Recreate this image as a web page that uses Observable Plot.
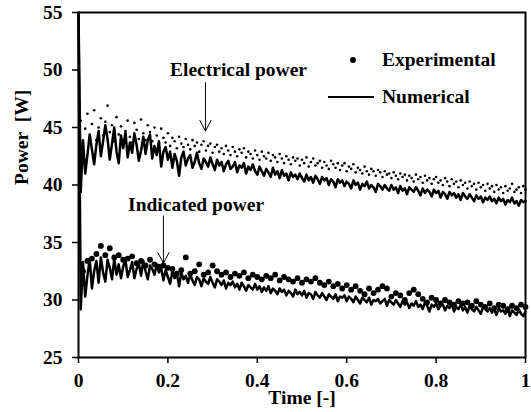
<!DOCTYPE html>
<html><head><meta charset="utf-8">
<script src="https://cdn.jsdelivr.net/npm/d3@7"></script>
<script src="https://cdn.jsdelivr.net/npm/@observablehq/plot@0.6"></script>
<style>html,body{margin:0;padding:0;background:#fff} svg{display:block}</style>
</head><body><div id="chart"></div>
<script>
// Tick values
const xTicks = [0, 0.2, 0.4, 0.6, 0.8, 1];
const yTicks = [25, 30, 35, 40, 45, 50, 55];

// Sampling of the dense series (time step, dimensionless)
const denseStep = 0.005;
// Electrical power – numerical (solid line)
const elecNum = [
55.0,39.4,43.9,41.0,42.6,44.4,43.1,41.8,43.5,44.7,
42.5,43.8,45.2,44.0,42.2,43.6,45.0,42.9,41.9,44.3,
43.2,44.6,42.4,43.7,42.8,44.5,43.5,42.1,43.0,44.2,
42.7,43.9,44.4,42.3,43.4,42.6,43.8,41.6,42.9,43.3,
42.2,42.9,41.5,42.7,42.1,40.8,42.4,42.9,41.7,42.3,
42.6,41.5,42.0,42.8,41.9,41.4,42.3,42.0,41.6,42.4,
41.8,41.3,42.2,41.7,42.0,41.2,41.8,42.1,41.4,41.6,
42.0,41.1,41.7,41.5,41.9,41.0,41.6,41.3,41.8,41.2,
40.9,41.6,41.2,40.8,41.4,41.1,40.7,41.5,40.9,41.2,
40.6,41.3,40.8,41.0,40.4,41.1,40.7,40.9,40.5,41.0,
40.6,40.3,40.9,40.4,40.7,40.2,40.8,40.5,40.1,40.7,
40.4,40.6,40.0,40.5,40.3,39.8,40.5,40.2,40.4,39.9,
40.3,40.1,39.7,40.4,40.0,40.2,39.6,40.1,39.9,40.3,
39.7,40.0,39.8,39.4,40.1,39.9,39.6,40.0,39.7,39.5,
40.0,39.6,39.8,39.3,39.9,39.5,39.7,39.2,39.8,39.6,
39.4,39.8,39.5,39.1,39.7,39.3,39.6,39.4,39.0,39.6,
39.3,39.5,38.9,39.4,39.2,38.8,39.4,39.1,39.3,38.9,
39.2,38.7,39.3,39.0,38.8,39.2,38.9,38.6,39.1,38.8,
39.0,38.5,38.9,38.7,39.0,38.6,38.8,38.4,38.9,38.6,
38.8,38.3,38.7,38.5,38.9,38.4,38.6,38.2,38.7,38.5,
38.6];
// Electrical power – experimental (small dots)
const elecExp = [
54.6,45.6,43.5,44.9,46.2,44.0,45.3,46.5,43.9,45.0,
45.8,44.3,45.5,46.9,44.6,45.2,43.8,45.9,44.4,45.1,
43.9,44.7,45.6,44.2,43.7,45.4,44.8,44.0,45.7,44.5,
43.9,45.2,44.6,43.8,45.0,44.3,43.6,44.9,44.1,43.7,
44.5,43.4,44.1,43.8,43.2,44.2,43.6,43.3,44.0,43.5,
43.1,43.9,43.4,43.7,42.9,43.5,43.8,43.0,43.4,43.6,
42.8,43.3,43.5,42.9,43.2,42.7,43.4,43.0,42.6,43.3,
42.9,42.5,43.1,42.8,43.2,42.4,42.9,42.7,42.3,43.0,
42.6,42.2,42.9,42.5,42.3,42.8,42.1,42.6,42.4,42.0,
42.7,42.3,41.9,42.5,42.2,41.8,42.4,42.1,42.3,41.7,
42.2,41.9,42.4,41.6,42.0,42.3,41.7,41.9,42.1,41.5,
42.0,41.7,41.4,42.1,41.8,41.5,41.9,41.3,41.7,41.9,
41.2,41.6,41.4,41.8,41.1,41.5,41.3,41.0,41.6,41.2,
40.9,41.4,41.2,40.8,41.3,41.1,40.7,41.2,40.9,41.0,
40.6,41.1,40.8,40.5,41.0,40.7,40.9,40.4,40.8,40.6,
40.3,40.9,40.5,40.7,40.2,40.8,40.4,40.6,40.1,40.5,
40.7,40.2,40.4,40.0,40.6,40.3,39.9,40.5,40.1,40.3,
39.8,40.4,40.0,40.2,39.7,40.3,39.9,40.1,39.6,40.2,
39.8,40.0,39.5,40.1,39.7,39.9,39.4,40.0,39.6,39.8,
39.3,39.9,39.5,39.7,40.1,39.4,39.6,39.8,39.3,39.9,
39.6];
// Indicated power – numerical (solid line)
const indNum = [
54.8,29.2,33.3,30.3,32.1,33.6,31.0,32.5,33.4,31.5,
33.7,32.4,31.6,33.5,32.8,31.8,33.6,32.2,33.1,31.9,
32.9,33.5,32.0,32.6,33.3,31.9,32.7,33.2,32.1,33.4,
32.5,31.8,33.0,32.7,32.2,33.1,32.4,32.8,31.7,32.6,
32.0,31.4,32.5,31.9,32.3,31.2,32.4,31.8,32.1,31.5,
32.2,31.7,31.3,32.0,31.8,31.2,31.9,31.6,31.4,32.0,
31.5,31.1,31.8,31.6,31.3,31.7,31.0,31.5,31.3,31.6,
31.1,31.4,30.9,31.5,31.2,30.8,31.3,31.1,30.9,31.4,
30.9,31.2,30.7,31.1,30.8,31.2,30.6,31.0,30.8,30.5,
31.0,30.7,30.9,30.4,30.8,30.6,30.3,30.9,30.5,30.7,
30.4,30.8,30.2,30.6,30.5,30.1,30.7,30.4,30.2,30.6,
30.3,30.0,30.5,30.3,30.1,30.5,29.9,30.3,30.2,30.4,
29.9,30.3,30.1,29.8,30.3,30.0,29.7,30.2,30.0,29.8,
30.2,29.6,30.0,29.9,30.1,29.7,29.9,30.1,29.5,30.0,
29.8,29.6,30.0,29.7,29.4,29.9,29.6,29.8,29.3,29.7,
29.5,29.9,29.4,29.6,29.2,29.8,29.5,29.0,29.6,29.4,
29.7,29.2,29.5,29.6,29.1,29.5,29.3,29.7,29.0,29.4,
29.2,29.6,29.1,29.4,28.9,29.5,29.2,29.0,29.4,29.1,
28.8,29.4,29.2,29.0,29.3,28.9,29.2,28.7,29.3,29.0,
29.1,28.8,29.2,28.6,29.1,28.9,28.7,29.2,28.8,28.6,
29.0];
// Indicated power – experimental (large dots), t = 0.01 … 1.00
const indExpStart = 0.01, indExpStep = 0.01;
const indExp = [
32.5,33.4,33.6,34.0,34.7,33.9,34.5,33.7,33.9,33.5,
33.6,33.8,33.2,33.4,33.0,33.5,33.1,32.9,33.0,32.8,
32.7,32.3,32.6,33.7,32.3,32.5,33.1,32.2,32.4,33.0,
32.5,32.2,32.4,32.0,32.3,32.1,32.4,31.9,32.2,32.0,
31.8,32.1,31.9,32.2,31.7,32.0,31.8,31.6,31.9,31.5,
31.8,31.6,31.9,31.5,31.3,31.6,31.2,31.4,31.0,31.3,
30.9,31.2,30.8,30.5,31.0,30.6,30.9,31.2,31.0,30.3,
30.6,30.4,30.0,30.6,30.9,30.5,30.1,29.8,30.2,30.0,
29.7,30.0,29.8,29.6,29.9,29.7,29.8,29.5,29.9,29.6,
29.4,29.7,29.3,29.6,29.5,29.2,29.5,29.3,29.6,29.4];

// Annotations (data units)
const annLabels = ["Electrical power", "Indicated power"];
const annTextT = [0.358, 0.263];
const annTextV = [50.0, 38.3];
const annArrowT = [0.284, 0.190];
const annArrowFrom = [48.9, 37.3];
const annArrowTo = [44.7, 33.2];

const legendLabels = ["Experimental", "Numerical"];

// ---- build tables ----
const dense = (arr) => arr.map((v, i) => ({t: i * denseStep, v}));
const elecNumRows = dense(elecNum);
const elecExpRows = dense(elecExp);
const indNumRows = dense(indNum);
const indExpRows = indExp.map((v, i) => ({t: indExpStart + i * indExpStep, v}));
const annRows = annLabels.map((label, i) => ({label, tt: annTextT[i], tv: annTextV[i], at: annArrowT[i], a1: annArrowFrom[i], a2: annArrowTo[i]}));

const font = "'Liberation Serif','Times New Roman',Times,serif";
const fs = 19.5;

const plot = Plot.plot({
  width: 531, height: 412,
  marginLeft: 78, marginRight: 6, marginTop: 12, marginBottom: 55,
  style: {fontFamily: font, fontWeight: "bold", fontSize: fs + "px", color: "#000", background: "#fff", overflow: "visible"},
  x: {domain: [0, 1]},
  y: {domain: [25, 55]},
  marks: [
    Plot.dot(indExpRows, {x: "t", y: "v", r: 2.9, fill: "#000", stroke: "none"}),
    Plot.dot(elecExpRows, {x: "t", y: "v", r: 1.3, fill: "#000", stroke: "none"}),
    Plot.line(elecNumRows, {x: "t", y: "v", stroke: "#000", strokeWidth: 2.5}),
    Plot.line(indNumRows, {x: "t", y: "v", stroke: "#000", strokeWidth: 2.5}),
    Plot.arrow(annRows, {x1: "at", y1: "a1", x2: "at", y2: "a2", stroke: "#000", strokeWidth: 1, headLength: 18, headAngle: 56}),
    Plot.text(annRows, {x: "tt", y: "tv", text: "label", fontSize: fs, fontWeight: "bold", fill: "#000"}),
    Plot.axisX({ticks: xTicks, tickFormat: d3.format("~g"), tickSize: 6, tickPadding: 10, label: null, fontSize: fs, strokeWidth: 1.5}),
    Plot.axisY({ticks: yTicks, tickSize: 6, tickPadding: 10, label: null, fontSize: fs, strokeWidth: 1.5}),
    Plot.frame({stroke: "#000", strokeWidth: 2}),
    Plot.text(["Time [-]"], {frameAnchor: "bottom", dy: 46, fontSize: fs, fontWeight: "bold"}),
    Plot.text(["Power\u2002[W]"], {frameAnchor: "left", dx: -57, rotate: -90, fontSize: fs, fontWeight: "bold"})
  ]
});

// Legend (inside the frame, top right)
const svg = d3.select(plot);
const lg = svg.append("g").attr("font-family", font).attr("font-weight", "bold").attr("font-size", fs).attr("text-anchor", "start");
lg.append("circle").attr("cx", 353).attr("cy", 60).attr("r", 2.9).attr("fill", "#000");
lg.append("text").attr("x", 382).attr("y", 66).attr("text-anchor", "start").text(legendLabels[0]);
lg.append("line").attr("x1", 328).attr("x2", 374).attr("y1", 97).attr("y2", 97).attr("stroke", "#000").attr("stroke-width", 2);
lg.append("text").attr("x", 382).attr("y", 103).attr("text-anchor", "start").text(legendLabels[1]);

document.getElementById("chart").appendChild(plot);
</script>
</body></html>
